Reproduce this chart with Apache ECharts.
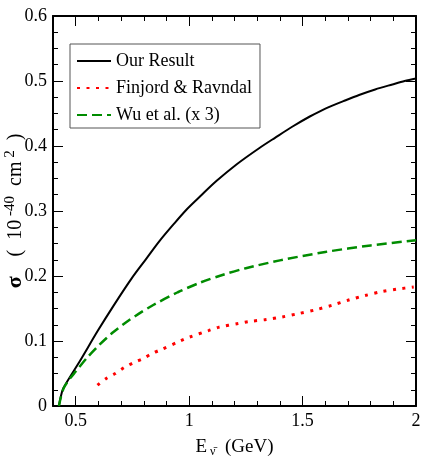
<!DOCTYPE html>
<html>
<head>
<meta charset="utf-8">
<script src="https://cdn.jsdelivr.net/npm/echarts@6/dist/echarts.min.js"></script>
<style>
html, body { margin: 0; padding: 0; background: #fff; }
#main { width: 422px; height: 457px; }
</style>
</head>
<body>
<div id="main"></div>
<script>
// tick labels
var xMajor = [0.5, 1, 1.5, 2];

// Our Result
var ourE = [0.426, 0.433, 0.445, 0.52, 0.598, 0.67, 0.746, 0.81, 0.87, 0.93, 0.988, 1.05, 1.12, 1.21, 1.31, 1.38, 1.456, 1.53, 1.603, 1.68, 1.749, 1.82, 1.896, 1.95, 2.0];
var ourSigma = [0, 0.012, 0.027, 0.070, 0.116, 0.156, 0.196, 0.226, 0.254, 0.279, 0.302, 0.323, 0.346, 0.372, 0.397, 0.413, 0.430, 0.445, 0.458, 0.469, 0.4785, 0.487, 0.4947, 0.500, 0.504];

// Finjord & Ravndal
var frE = [0.596, 0.633, 0.674, 0.713, 0.757, 0.797, 0.838, 0.878, 0.961, 1.002, 1.086, 1.129, 1.217, 1.264, 1.34, 1.41, 1.48, 1.557, 1.63, 1.703, 1.776, 1.849, 1.92, 1.99];
var frSigma = [0.032, 0.042, 0.050, 0.059, 0.067, 0.073, 0.081, 0.087, 0.100, 0.106, 0.116, 0.121, 0.127, 0.130, 0.133, 0.137, 0.142, 0.148, 0.155, 0.163, 0.170, 0.176, 0.180, 0.183];

// Wu et al. (x 3)
var wuE = [0.426, 0.435, 0.448, 0.47, 0.5, 0.552, 0.604, 0.662, 0.721, 0.779, 0.84, 0.95, 1.05, 1.15, 1.25, 1.4, 1.6, 1.8, 2.0];
var wuSigma = [0, 0.014, 0.028, 0.040, 0.053, 0.075, 0.094, 0.1126, 0.1285, 0.1421, 0.155, 0.175, 0.190, 0.202, 0.212, 0.224, 0.237, 0.247, 0.255];

function pairs(xs, ys) {
  return xs.map(function (x, i) { return [x, ys[i]]; });
}

var font = "Liberation Serif";
var lineBlack = { color: "#000", width: 2 };

var myChart = echarts.init(document.getElementById("main"));
myChart.setOption({
  animation: false,
  grid: { left: 53, right: 6, top: 16, bottom: 51, outerBoundsMode: "none", containLabel: false },
  legend: {
    data: ["Our Result", "Finjord & Ravndal", "Wu et al. (x 3)"],
    orient: "vertical",
    left: 70,
    top: 44,
    backgroundColor: "#fff",
    borderColor: "#555",
    borderWidth: 1,
    borderRadius: 0,
    padding: [8, 8, 4, 6],
    itemWidth: 34,
    itemHeight: 18,
    itemGap: 9,
    itemStyle: { opacity: 0 },
    textStyle: { fontFamily: font, fontSize: 18, color: "#000" }
  },
  xAxis: [
    {
      type: "value", position: "bottom", min: 0.4, max: 2, interval: 0.1,
      axisLine: { lineStyle: lineBlack },
      axisTick: { inside: true, length: 5, lineStyle: { color: "#000", width: 1 } },
      axisLabel: { customValues: xMajor, fontFamily: font, fontSize: 18, color: "#000", margin: 6 },
      splitLine: { show: false },
      name: "{e|E}{sub|ν̄}{t|  (GeV)}",
      nameLocation: "middle",
      nameGap: 30,
      nameMoveOverlap: false,
      nameTextStyle: {
        rich: {
          e: { fontFamily: font, fontSize: 19, color: "#000" },
          sub: { fontFamily: font, fontSize: 12, color: "#000", verticalAlign: "bottom", padding: [10, 0, 0, 3] },
          t: { fontFamily: font, fontSize: 19, color: "#000" }
        }
      }
    },
    {
      type: "value", position: "bottom", min: 0.4, max: 2,
      axisLine: { show: false },
      axisTick: { inside: true, length: 10, customValues: xMajor, lineStyle: { color: "#000", width: 1 } },
      axisLabel: { show: false },
      splitLine: { show: false }
    },
    {
      type: "value", position: "top", min: 0.4, max: 2, interval: 0.1,
      axisLine: { lineStyle: lineBlack },
      axisTick: { inside: true, length: 5, lineStyle: { color: "#000", width: 1 } },
      axisLabel: { show: false },
      splitLine: { show: false }
    },
    {
      type: "value", position: "top", min: 0.4, max: 2,
      axisLine: { show: false },
      axisTick: { inside: true, length: 10, customValues: xMajor, lineStyle: { color: "#000", width: 1 } },
      axisLabel: { show: false },
      splitLine: { show: false }
    }
  ],
  yAxis: [
    {
      type: "value", position: "left", min: 0, max: 0.6, interval: 0.1,
      axisLine: { show: true, lineStyle: lineBlack },
      axisTick: { inside: true, length: 10, lineStyle: { color: "#000", width: 1 } },
      minorTick: { show: true, splitNumber: 4, length: 5, lineStyle: { color: "#000", width: 1 } },
      axisLabel: { fontFamily: font, fontSize: 18, color: "#000", margin: 6 },
      splitLine: { show: false },
      name: "{s|σ}{t|    (  10}{sup| -40}{t|  cm}{sup| 2}{t|  )}",
      nameLocation: "middle",
      nameGap: 25,
      nameMoveOverlap: false,
      nameRotate: 90,
      nameTextStyle: {
        rich: {
          s: { fontFamily: font, fontSize: 22, fontWeight: "bold", color: "#000" },
          t: { fontFamily: font, fontSize: 20, color: "#000" },
          sup: { fontFamily: font, fontSize: 15, color: "#000", verticalAlign: "top", padding: [0, 0, 10, 0] }
        }
      }
    },
    {
      type: "value", position: "right", min: 0, max: 0.6, interval: 0.1,
      axisLine: { show: true, lineStyle: lineBlack },
      axisTick: { inside: true, length: 10, lineStyle: { color: "#000", width: 1 } },
      minorTick: { show: true, splitNumber: 4, length: 5, lineStyle: { color: "#000", width: 1 } },
      axisLabel: { show: false },
      splitLine: { show: false }
    }
  ],
  series: [
    {
      name: "Our Result", type: "line", xAxisIndex: 0, yAxisIndex: 0,
      showSymbol: false, symbol: "none", smooth: 0.3,
      lineStyle: { color: "#000", width: 2 },
      itemStyle: { color: "#000" },
      data: pairs(ourE, ourSigma)
    },
    {
      name: "Finjord & Ravndal", type: "line", xAxisIndex: 0, yAxisIndex: 0,
      showSymbol: false, symbol: "none", smooth: 0.3,
      lineStyle: { color: "#ff0000", width: 3, type: [3, 6.5] },
      itemStyle: { color: "#ff0000" },
      data: pairs(frE, frSigma)
    },
    {
      name: "Wu et al. (x 3)", type: "line", xAxisIndex: 0, yAxisIndex: 0,
      showSymbol: false, symbol: "none", smooth: 0.3,
      lineStyle: { color: "#008c00", width: 2.5, type: [10, 5] },
      itemStyle: { color: "#008c00" },
      data: pairs(wuE, wuSigma)
    }
  ]
});
</script>
</body>
</html>
